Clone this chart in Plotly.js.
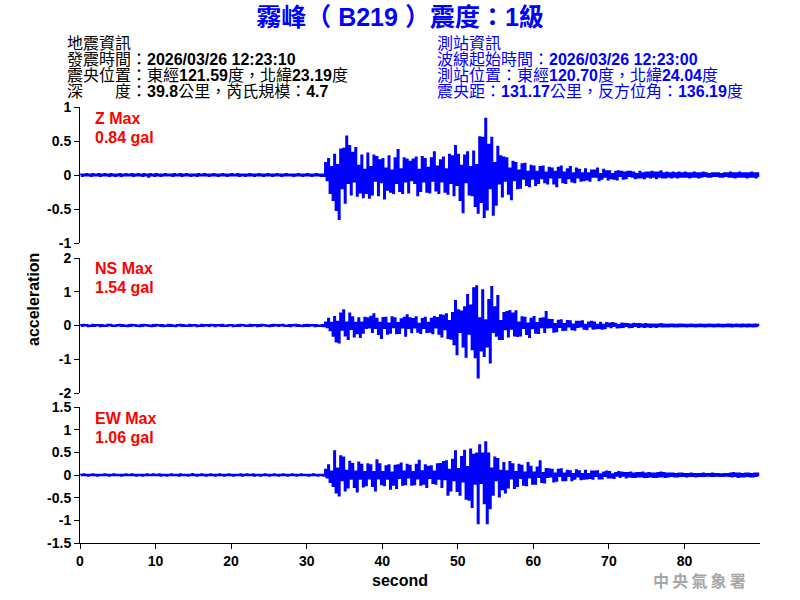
<!DOCTYPE html>
<html>
<head>
<meta charset="utf-8">
<script src="https://cdn.plot.ly/plotly-3.0.1.min.js"></script>
<style>html,body{margin:0;padding:0;background:#fff;}#chart{width:800px;height:600px;}</style>
</head>
<body>
<div id="chart"></div>
<script>
// ---- data ----
const sampleInterval = 0.2; // seconds between samples

const zAcc = [
.01,-.02,.01,-.01,.02,-.01,.01,-.02,.02,-.01,
.01,-.01,.02,-.02,.01,-.01,.02,-.01,.01,-.02,
.02,-.01,.01,-.02,.01,-.01,.02,-.02,.01,-.01,
.02,-.01,.01,-.01,.02,-.02,.01,-.01,.02,-.01,
.01,-.02,.02,-.01,.01,-.03,.02,-.01,.01,-.02,
.02,-.01,.01,-.02,.01,-.01,.02,-.01,.01,-.01,
.01,-.02,.02,-.01,.01,-.01,.02,-.02,.01,-.01,
.02,-.01,.01,-.02,.01,-.01,.01,-.02,.02,-.01,
.01,-.01,.02,-.01,.01,-.02,.01,-.01,.02,-.01,
.01,-.02,.01,-.01,.02,-.01,.01,-.02,.01,-.01,
.02,-.01,.01,-.01,.02,-.02,.01,-.01,.01,-.02,
.01,-.01,.02,-.01,.01,-.02,.01,-.01,.02,-.01,
.01,-.02,.01,-.01,.02,-.01,.01,-.02,.01,-.01,
.02,-.01,.01,-.02,.01,-.01,.02,-.01,.01,-.01,
.01,-.02,.01,-.01,.02,-.01,.01,-.02,.01,-.01,
.02,-.01,.01,-.02,.01,-.01,.02,-.01,.01,-.02,
.01,-.02,.18,-.08,.24,-.27,.12,-.37,.30,-.52,
.15,-.65,.38,-.20,.39,-.41,.57,-.12,.43,-.29,
.33,-.10,.40,-.31,.14,-.26,.29,-.33,.08,-.27,
.32,-.34,.12,-.29,.29,-.09,.27,-.30,.22,-.11,
.24,-.35,.10,-.22,.28,-.25,.07,-.27,.25,-.12,
.37,-.24,.09,-.27,.25,-.10,.23,-.26,.20,-.08,
.23,-.12,.26,-.30,.08,-.24,.27,-.10,.24,-.25,
.11,-.26,.25,-.09,.34,-.23,.13,-.27,.22,-.10,
.26,-.25,.09,-.28,.30,-.12,.28,-.30,.43,-.15,
.30,-.37,.14,-.55,.29,-.11,.34,-.29,.12,-.30,
.35,-.46,.15,-.56,.56,-.40,.55,-.62,.83,-.51,
.45,-.20,.55,-.59,.18,-.44,.42,-.13,.28,-.32,
.26,-.09,.25,-.28,.10,-.36,.20,-.08,.18,-.20,
.07,-.19,.16,-.06,.17,-.15,.05,-.17,.14,-.06,
.13,-.15,.05,-.12,.12,-.05,.13,-.11,.04,-.13,
.11,-.04,.10,-.13,.05,-.17,.11,-.04,.13,-.11,
.04,-.12,.09,-.05,.12,-.10,.03,-.11,.10,-.04,
.08,-.09,.03,-.08,.09,-.07,.03,-.09,.07,-.03,
.07,-.03,.10,-.08,.02,-.06,.08,-.03,.06,-.07,
.06,-.05,.02,-.06,.05,-.07,.06,-.02,.05,-.06,
.04,-.05,.05,-.02,.05,-.03,.04,-.05,.02,-.04,
.05,-.04,.03,-.05,.04,-.03,.04,-.04,.05,-.03,
.04,-.05,.04,-.03,.06,-.04,.03,-.04,.04,-.03,
.03,-.04,.04,-.03,.03,-.04,.04,-.03,.03,-.03,
.04,-.03,.03,-.04,.03,-.03,.04,-.03,.03,-.04,
.03,-.03,.04,-.02,.03,-.03,.02,-.03,.03,-.02,
.03,-.02,.03,-.03,.02,-.03,.03,-.02,.03,-.03,
.04,-.03,.03,-.04,.03,-.03,.04,-.03,.03,-.03,
.03,-.04,.03,-.03,.04,-.03,.03,-.04,.03,-.03
];

const nsAcc = [
.02,-.02,.03,-.01,.02,-.03,.01,-.02,.03,-.02,
.02,-.01,.02,-.03,.02,-.02,.01,-.02,.03,-.01,
.03,-.02,.01,-.02,.02,-.01,.03,-.02,.02,-.02,
.01,-.03,.02,-.02,.03,-.01,.02,-.02,.01,-.03,
.02,-.02,.03,-.01,.02,-.02,.01,-.03,.02,-.02,
.03,-.01,.02,-.02,.02,-.03,.01,-.02,.03,-.02,
.02,-.02,.01,-.03,.02,-.01,.03,-.02,.02,-.02,
.01,-.02,.03,-.02,.02,-.01,.02,-.03,.01,-.02,
.03,-.02,.02,-.01,.02,-.02,.03,-.01,.02,-.03,
.02,-.01,.02,-.02,.03,-.02,.01,-.02,.02,-.01,
.02,-.03,.01,-.02,.02,-.02,.03,-.01,.02,-.02,
.01,-.02,.03,-.02,.02,-.01,.02,-.03,.02,-.02,
.03,-.01,.02,-.02,.01,-.03,.02,-.02,.03,-.01,
.02,-.02,.02,-.01,.03,-.02,.01,-.02,.02,-.03,
.02,-.01,.03,-.02,.02,-.02,.01,-.03,.02,-.02,
.03,-.02,.02,-.01,.02,-.03,.02,-.02,.01,-.02,
.02,-.03,.10,-.06,.21,-.15,.09,-.31,.26,-.48,
.12,-.51,.36,-.13,.46,-.30,.10,-.41,.36,-.11,
.25,-.33,.09,-.24,.22,-.35,.10,-.22,.24,-.08,
.22,-.07,.27,-.20,.34,-.08,.21,-.26,.09,-.38,
.23,-.08,.24,-.25,.07,-.22,.25,-.06,.22,-.24,
.08,-.23,.19,-.07,.24,-.31,.31,-.08,.22,-.21,
.20,-.07,.25,-.19,.06,-.23,.20,-.08,.24,-.20,
.09,-.19,.21,-.24,.26,-.07,.23,-.25,.31,-.33,
.30,-.12,.34,-.38,.14,-.40,.38,-.56,.73,-.86,
.46,-.20,.42,-.63,.55,-.93,.91,-.25,.60,-.71,
1.11,-.95,1.17,-1.55,.22,-.75,1.05,-.91,.16,-.63,
.76,-1.10,1.15,-.20,.55,-.31,.88,-.41,.14,-.41,
.38,-.12,.41,-.33,.44,-.10,.36,-.30,.43,-.32,
.10,-.30,.25,-.08,.24,-.26,.07,-.35,.21,-.09,
.26,-.22,.08,-.23,.21,-.06,.22,-.20,.41,-.07,
.18,-.06,.17,-.19,.05,-.18,.15,-.05,.16,-.14,
.05,-.13,.14,-.04,.13,-.12,.04,-.13,.12,-.05,
.12,-.04,.13,-.10,.03,-.12,.10,-.04,.12,-.10,
.10,-.09,.03,-.08,.09,-.10,.03,-.09,.08,-.03,
.07,-.06,.08,-.02,.06,-.07,.02,-.06,.07,-.05,
.06,-.02,.05,-.06,.04,-.05,.06,-.02,.05,-.05,
.05,-.04,.04,-.05,.05,-.04,.04,-.05,.04,-.04,
.04,-.05,.04,-.03,.05,-.04,.04,-.04,.03,-.04,
.04,-.03,.04,-.04,.03,-.04,.04,-.03,.04,-.03,
.03,-.04,.03,-.03,.04,-.03,.03,-.04,.03,-.03,
.04,-.03,.03,-.04,.03,-.03,.04,-.03,.03,-.04,
.03,-.03,.04,-.03,.03,-.04,.03,-.03,.04,-.03,
.04,-.04,.03,-.03,.04,-.03,.03,-.04,.04,-.03,
.03,-.04,.04,-.03,.03,-.04,.04,-.03,.03,-.03
];

const ewAcc = [
.01,-.01,.02,-.01,.01,-.02,.01,-.01,.02,-.01,
.01,-.02,.01,-.01,.01,-.01,.02,-.01,.01,-.02,
.01,-.01,.02,-.01,.01,-.01,.01,-.02,.01,-.01,
.02,-.01,.01,-.01,.02,-.01,.01,-.02,.01,-.01,
.01,-.02,.01,-.01,.02,-.01,.01,-.01,.02,-.01,
.01,-.01,.02,-.02,.01,-.01,.01,-.02,.01,-.01,
.02,-.01,.01,-.01,.01,-.02,.02,-.01,.01,-.01,
.01,-.02,.01,-.01,.03,-.01,.01,-.02,.01,-.01,
.02,-.01,.01,-.02,.01,-.01,.02,-.01,.01,-.02,
.01,-.01,.02,-.01,.01,-.02,.01,-.01,.02,-.01,
.01,-.02,.01,-.01,.01,-.01,.02,-.02,.01,-.01,
.02,-.01,.01,-.01,.02,-.02,.01,-.01,.01,-.02,
.01,-.01,.02,-.01,.01,-.02,.01,-.01,.02,-.01,
.01,-.02,.01,-.01,.02,-.01,.01,-.02,.01,-.01,
.02,-.01,.01,-.02,.01,-.01,.02,-.01,.01,-.01,
.01,-.02,.01,-.01,.02,-.01,.01,-.02,.01,-.01,
.01,-.02,.12,-.06,.22,-.16,.08,-.25,.53,-.39,
.15,-.46,.42,-.12,.39,-.35,.10,-.28,.30,-.09,
.25,-.27,.08,-.37,.28,-.09,.23,-.26,.07,-.23,
.24,-.08,.22,-.25,.07,-.35,.33,-.08,.24,-.21,
.07,-.23,.20,-.09,.22,-.31,.06,-.22,.21,-.29,
.22,-.07,.26,-.22,.08,-.21,.23,-.06,.21,-.22,
.07,-.21,.23,-.08,.32,-.22,.09,-.20,.22,-.27,
.19,-.07,.20,-.18,.08,-.20,.24,-.09,.25,-.27,
.29,-.10,.31,-.44,.12,-.35,.34,-.12,.53,-.36,
.14,-.44,.40,-.15,.54,-.53,.18,-.55,.57,-.71,
.45,-.20,.48,-1.07,.66,-.18,.48,-.63,.73,-1.07,
.48,-.74,.15,-.44,.39,-.12,.36,-.48,.10,-.32,
.27,-.39,.09,-.28,.29,-.08,.24,-.29,.07,-.25,
.23,-.07,.21,-.22,.06,-.23,.27,-.06,.19,-.20,
.06,-.20,.17,-.05,.31,-.16,.05,-.17,.14,-.05,
.13,-.04,.12,-.15,.04,-.13,.12,-.03,.13,-.12,
.04,-.12,.10,-.03,.09,-.12,.03,-.09,.11,-.04,
.09,-.10,.03,-.09,.10,-.08,.03,-.07,.08,-.09,
.08,-.03,.09,-.08,.02,-.08,.06,-.03,.08,-.06,
.07,-.06,.02,-.07,.05,-.02,.07,-.05,.06,-.02,
.05,-.06,.05,-.04,.06,-.05,.04,-.05,.05,-.04,
.05,-.04,.06,-.05,.04,-.05,.05,-.04,.04,-.05,
.04,-.05,.05,-.04,.06,-.04,.05,-.05,.04,-.04,
.04,-.03,.04,-.04,.03,-.04,.04,-.03,.04,-.03,
.03,-.04,.03,-.03,.04,-.03,.03,-.04,.03,-.03,
.03,-.03,.04,-.03,.03,-.02,.03,-.03,.04,-.03,
.03,-.02,.03,-.03,.02,-.03,.03,-.02,.03,-.03,
.04,-.04,.05,-.03,.04,-.05,.04,-.04,.03,-.04,
.04,-.03,.04,-.04,.03,-.04,.04,-.03,.04,-.03
];

const xTickVals = [0,10,20,30,40,50,60,70,80];
const xTickText = ['0','10','20','30','40','50','60','70','80'];
const zTickVals = [1,0.5,0,-0.5,-1];
const zTickText = ['1','0.5','0','-0.5','-1'];
const nsTickVals = [2,1,0,-1,-2];
const nsTickText = ['2','1','0','-1','-2'];
const ewTickVals = [1.5,1,0.5,0,-0.5,-1,-1.5];
const ewTickText = ['1.5','1','0.5','0','-0.5','-1','-1.5'];

const titleText = '霧峰（ B219 ）震度：1級';
const quakeInfo = [
  '地震資訊',
  '發震時間：<b>2026/03/26 12:23:10</b>',
  '震央位置：東經<b>121.59</b>度，北緯<b>23.19</b>度',
  '深　　度：<b>39.8</b>公里，芮氏規模：<b>4.7</b>'
];
const stationInfo = [
  '測站資訊',
  '波線起始時間：<b>2026/03/26 12:23:00</b>',
  '測站位置：東經<b>120.70</b>度，北緯<b>24.04</b>度',
  '震央距：<b>131.17</b>公里，反方位角：<b>136.19</b>度'
];
const compNames = ['Z Max','NS Max','EW Max'];
const compPeaks = ['0.84 gal','1.54 gal','1.06 gal'];
const xTitle = 'second';
const yTitle = 'acceleration';
const watermark = '中\u2009央\u2009氣\u2009象\u2009署';

// ---- layout helpers (pixel -> paper) ----
const L = 80, R = 760, T = 107, B = 543;
const px = x => (x - L) / (R - L);
const py = y => (B - y) / (B - T);

const time = zAcc.map((_, i) => Math.round(i * sampleInterval * 10) / 10);

const FONT = 'Liberation Sans, Arial, Noto Sans CJK TC, sans-serif';
const lineStyle = {color: '#0000ff', width: 1.5, shape: 'hv'};

const traces = [
  {x: time, y: zAcc, xaxis: 'x', yaxis: 'y', type: 'scatter', mode: 'lines', line: lineStyle, hoverinfo: 'skip'},
  {x: time, y: nsAcc, xaxis: 'x', yaxis: 'y2', type: 'scatter', mode: 'lines', line: lineStyle, hoverinfo: 'skip'},
  {x: time, y: ewAcc, xaxis: 'x', yaxis: 'y3', type: 'scatter', mode: 'lines', line: lineStyle, hoverinfo: 'skip'}
];

const tickFont = {family: FONT, size: 14, color: '#000', weight: 'bold'};
function yAx(domain, range, vals, text) {
  return {
    domain: domain, range: range, anchor: 'x', fixedrange: true,
    showline: true, linecolor: '#000', linewidth: 1,
    ticks: 'outside', ticklen: 5, tickcolor: '#000', tickwidth: 1,
    tickvals: vals, ticktext: text, tickfont: tickFont,
    showgrid: false, zeroline: false
  };
}

const annotations = [];
quakeInfo.forEach((t, i) => annotations.push({
  text: t, xref: 'paper', yref: 'paper', x: px(65), y: py(43 + 16 * i),
  xanchor: 'left', yanchor: 'middle', showarrow: false,
  font: {family: FONT, size: 16, color: '#000'}
}));
stationInfo.forEach((t, i) => annotations.push({
  text: t, xref: 'paper', yref: 'paper', x: px(435), y: py(43 + 16 * i),
  xanchor: 'left', yanchor: 'middle', showarrow: false,
  font: {family: FONT, size: 16, color: '#0000ff'}
}));
compNames.forEach((t, i) => {
  annotations.push({
    text: t, xref: 'paper', yref: 'paper', x: px(93), y: py(118 + 150 * i),
    xanchor: 'left', yanchor: 'middle', showarrow: false,
    font: {family: FONT, size: 16, color: '#ff0000', weight: 'bold'}
  });
  annotations.push({
    text: compPeaks[i], xref: 'paper', yref: 'paper', x: px(93), y: py(137 + 150 * i),
    xanchor: 'left', yanchor: 'middle', showarrow: false,
    font: {family: FONT, size: 16, color: '#ff0000', weight: 'bold'}
  });
});
annotations.push({
  text: yTitle, xref: 'paper', yref: 'paper', x: px(33), y: py(300),
  xanchor: 'center', yanchor: 'middle', textangle: -90, showarrow: false,
  font: {family: FONT, size: 16, color: '#000', weight: 'bold'}
});
annotations.push({
  text: xTitle, xref: 'paper', yref: 'paper', x: px(400), y: py(580),
  xanchor: 'center', yanchor: 'middle', showarrow: false,
  font: {family: FONT, size: 16, color: '#000', weight: 'bold'}
});
annotations.push({
  text: watermark, xref: 'paper', yref: 'paper', x: px(748), y: py(580),
  xanchor: 'right', yanchor: 'middle', showarrow: false,
  font: {family: 'Noto Sans CJK TC, sans-serif', size: 16, color: '#a6a6a6', weight: 'bold'}
});

const layout = {
  width: 800, height: 600,
  margin: {l: L, r: 800 - R, t: T, b: 600 - B, pad: 0},
  paper_bgcolor: '#fff', plot_bgcolor: '#fff',
  showlegend: false,
  title: {
    text: titleText, xref: 'container', yref: 'container',
    x: 0.5, y: 1 - 17 / 600, xanchor: 'center', yanchor: 'middle',
    font: {family: FONT, size: 25, color: '#0000ff', weight: 'bold'}
  },
  xaxis: {
    domain: [0, 1], range: [0, 90], anchor: 'y3', fixedrange: true,
    showline: true, linecolor: '#000', linewidth: 1,
    ticks: 'outside', ticklen: 5, tickcolor: '#000', tickwidth: 1,
    tickvals: xTickVals, ticktext: xTickText, tickfont: tickFont,
    showgrid: false, zeroline: false
  },
  yaxis: yAx([py(243), 1], [-1, 1], zTickVals, zTickText),
  yaxis2: yAx([py(393), py(258)], [-2, 2], nsTickVals, nsTickText),
  yaxis3: yAx([0, py(407)], [-1.5, 1.5], ewTickVals, ewTickText),
  annotations: annotations
};

Plotly.newPlot('chart', traces, layout, {staticPlot: true, displayModeBar: false});
</script>
</body>
</html>
